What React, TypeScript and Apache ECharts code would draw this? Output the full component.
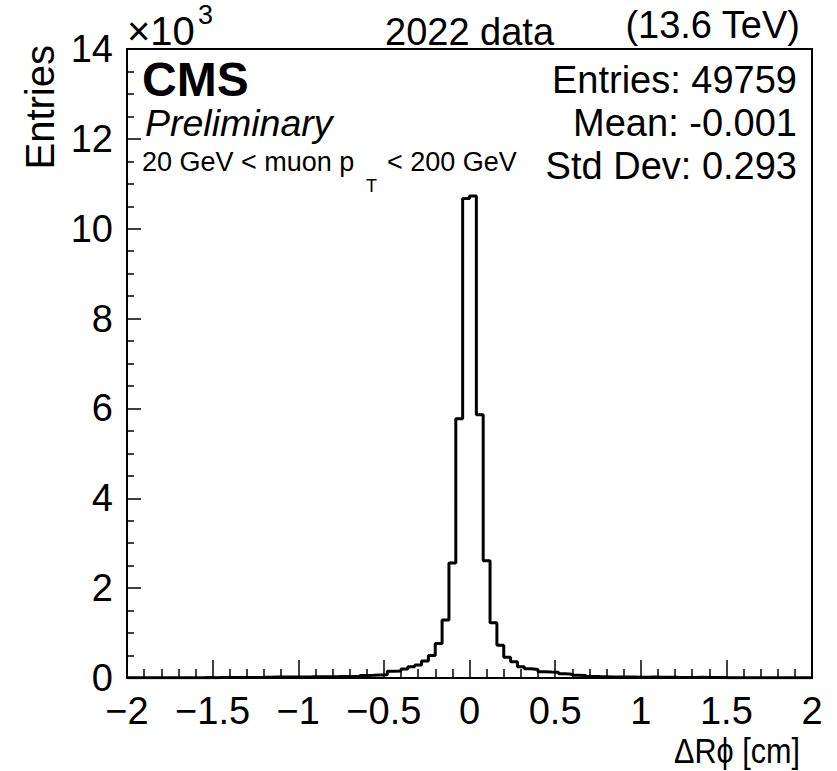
import React, { useEffect, useRef } from "react";
import * as echarts from "echarts";

// Histogram definition: 100 bins from -2 to 2 (width 0.04)
const BIN_MIN = -2;
const BIN_WIDTH = 0.04;
const counts: number[] = [
  // -2.00 .. -1.20
  4, 5, 4, 6, 5, 6, 7, 6, 8, 7, 8, 9, 8, 10, 11, 10, 12, 13, 12, 14,
  // -1.20 .. -0.80
  18, 20, 21, 22, 24, 25, 26, 28, 27, 30,
  // -0.80 .. -0.64
  31, 33, 34, 36,
  // -0.64 .. -0.48
  58, 62, 68, 74,
  // -0.48 .. 0.00
  150, 158, 200, 250, 290, 380, 500, 770, 1290, 2560, 5770, 10670,
  // 0.00 .. 0.40
  10730, 5860, 2610, 1230, 730, 460, 360, 250, 205, 190,
  // 0.40 .. 0.80
  140, 132, 128, 92, 86, 62, 56, 36, 32, 30,
  // 0.80 .. 1.20
  24, 22, 21, 20, 18, 17, 20, 19, 18, 16,
  // 1.20 .. 2.00
  13, 12, 11, 15, 10, 9, 9, 8, 7, 8, 7, 6, 6, 5, 6, 5, 4, 5, 4, 4,
];
const yTicks = [0, 2, 4, 6, 8, 10, 12, 14];
const xTicks = [-2, -1.5, -1, -0.5, 0, 0.5, 1, 1.5, 2];
const statsLines = ["Entries: 49759", "Mean: -0.001", "Std Dev: 0.293"];

const FONT = "'Liberation Sans', Arial, Helvetica, sans-serif";

export default function App() {
  const ref = useRef<HTMLDivElement>(null);

  useEffect(() => {
    if (!ref.current) return;
    const chart = echarts.init(ref.current, undefined, { renderer: "svg" });

    const pts: [number, number][] = counts.map((c, i) => [
      +(BIN_MIN + i * BIN_WIDTH).toFixed(4),
      c / 1000,
    ]);
    pts.push([
      +(BIN_MIN + counts.length * BIN_WIDTH).toFixed(4),
      counts[counts.length - 1] / 1000,
    ]);

    const fmt = (v: number) => String(v).replace("-", "\u2212");

    const txt = (
      text: string,
      x: number,
      y: number,
      fontSize: number,
      textAlign: string,
      extra: any = {}
    ) => ({
      type: "text",
      x,
      y,
      z: 10,
      style: {
        text,
        fontSize,
        fontFamily: FONT,
        fill: "#000",
        textAlign,
        textVerticalAlign: "middle",
        ...extra,
      },
    });

    chart.setOption({
      animation: false,
      backgroundColor: "#fff",
      grid: {
        left: 127,
        right: 25,
        top: 49,
        bottom: 93,
        show: true,
        borderColor: "#000",
        borderWidth: 2,
        backgroundColor: "transparent",
        containLabel: false,
      },
      xAxis: {
        type: "value",
        min: -2,
        max: 2,
        interval: 0.5,
        z: 5,
        axisLine: { show: true, onZero: false, lineStyle: { color: "#000", width: 2 } },
        axisTick: { show: true, inside: true, length: 18, lineStyle: { color: "#000", width: 1.5 } },
        minorTick: { show: true, splitNumber: 5, length: 9, lineStyle: { color: "#000", width: 1.5 } },
        splitLine: { show: false },
        minorSplitLine: { show: false },
        axisLabel: {
          show: true,
          fontSize: 38,
          fontFamily: FONT,
          color: "#000",
          margin: 14,
          showMinLabel: true,
          showMaxLabel: true,
          formatter: (v: number) => (xTicks.includes(v) ? fmt(v) : ""),
        },
      },
      yAxis: {
        type: "value",
        min: 0,
        max: 14,
        interval: 2,
        z: 5,
        axisLine: { show: true, onZero: false, lineStyle: { color: "#000", width: 2 } },
        axisTick: { show: true, inside: true, length: 14, lineStyle: { color: "#000", width: 1.5 } },
        minorTick: { show: true, splitNumber: 4, length: 7, lineStyle: { color: "#000", width: 1.5 } },
        splitLine: { show: false },
        minorSplitLine: { show: false },
        axisLabel: {
          show: true,
          fontSize: 38,
          fontFamily: FONT,
          color: "#000",
          margin: 14,
          showMinLabel: true,
          showMaxLabel: true,
          formatter: (v: number) => (yTicks.includes(v) ? String(v) : ""),
        },
      },
      series: [
        {
          type: "line",
          data: pts,
          step: "end",
          symbol: "none",
          clip: true,
          lineStyle: { color: "#000", width: 3 },
          z: 3,
        },
      ],
      graphic: [
        { ...txt("Entries", 40, 45, 40, "right"), rotation: Math.PI / 2 },
        { ...txt("\u0394R\u03d5 [cm]", 800, 751, 36, "right"), scaleX: 0.85 },
        txt("\u00d710", 127, 31, 40, "left"),
        txt("3", 198, 15, 27, "left"),
        txt("2022 data", 385, 32, 38, "left"),
        txt("(13.6 TeV)", 800, 25, 38, "right"),
        txt("CMS", 142, 79, 48, "left", { fontWeight: "bold" }),
        txt("Preliminary", 145, 123, 37.5, "left", { fontStyle: "italic" }),
        txt("20 GeV < muon p", 142, 162, 27, "left"),
        txt("T", 366, 186, 18, "left"),
        txt("< 200 GeV", 387, 162, 27, "left"),
        ...statsLines.map((t, i) => txt(t, 797, 80 + i * 43, 38, "right")),
      ],
    });

    return () => {
      chart.dispose();
    };
  }, []);

  return (
    <div
      ref={ref}
      style={{ position: "absolute", left: 0, top: 0, width: 837, height: 771, background: "#fff" }}
    />
  );
}
